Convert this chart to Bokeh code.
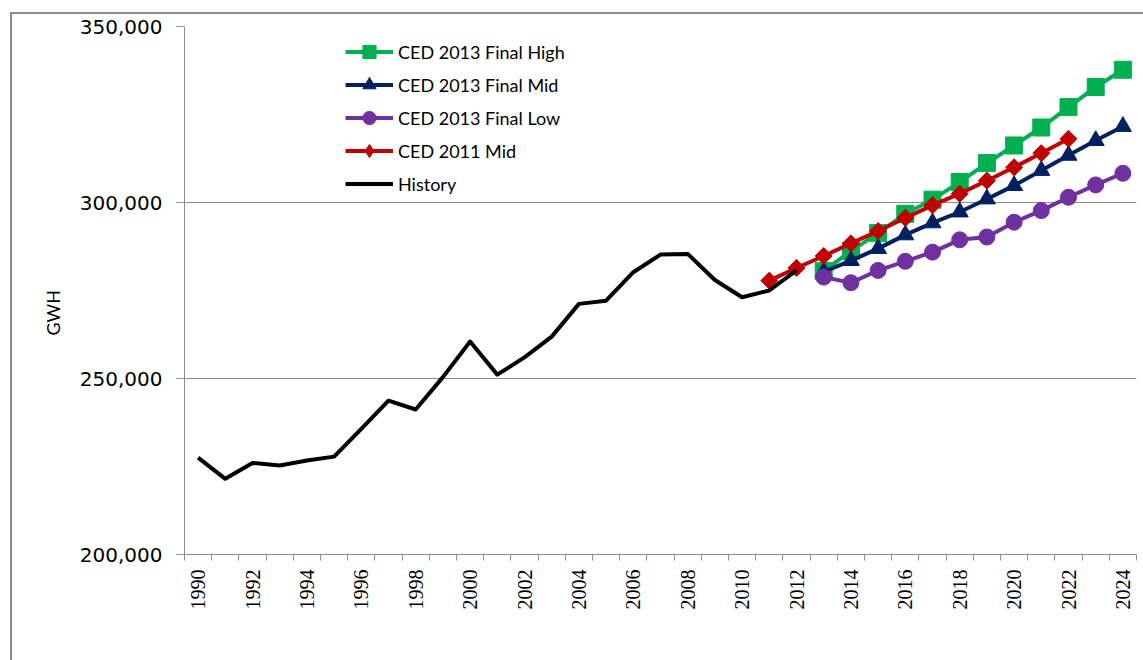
import math
from bokeh.plotting import figure
from bokeh.models import (Range1d, FixedTicker, NumeralTickFormatter, BasicTickFormatter,
                          Legend, Title, InlineStyleSheet)
from bokeh.embed import file_html
from bokeh.resources import INLINE

# ---------------- data ----------------
history_years = list(range(1990, 2013))
history = [227500, 221500, 226000, 225300, 226700, 227800, 235700, 243700, 241200,
           250400, 260500, 251100, 256000, 261900, 271200, 272100, 280200, 285200,
           285400, 278000, 273100, 275000, 280700]

ced2011_years = list(range(2011, 2023))
ced2011_mid = [277800, 281400, 284800, 288400, 291900, 295600, 299200, 302500,
               306200, 310000, 314000, 318100]

forecast_years = list(range(2013, 2025))
ced2013_high = [280500, 286200, 291300, 296800, 300800, 305800, 311200, 316200,
                321300, 327100, 332800, 337700]
ced2013_mid = [280300, 283500, 286900, 290800, 294200, 297300, 301000, 304800,
               309100, 313400, 317600, 321600]
ced2013_low = [278800, 277200, 280700, 283300, 285900, 289400, 290200, 294400,
               297700, 301500, 305000, 308300]

year_labels = list(range(1990, 2025, 2))
category_edges = [y - 0.5 for y in range(1990, 2026)]
y_ticks = [200000, 250000, 300000, 350000]

# ---------------- figure ----------------
W, H = 1143, 660
ML, MT, MR, MB = 184, 26, 7, 106

border_css = InlineStyleSheet(css="""
:host::after {
  content: "";
  position: absolute;
  left: 10px; top: 12px; right: 0px; bottom: 0px;
  border-left: 2px solid #8c8c8c;
  border-top: 2px solid #8c8c8c;
  pointer-events: none;
  z-index: 10;
}
""")

p = figure(width=W, height=H, output_backend="svg", toolbar_location=None,
           x_range=Range1d(1989.5, 2024.5), y_range=Range1d(200000, 350000),
           min_border_left=ML, min_border_top=MT, min_border_right=MR,
           min_border_bottom=MB, background_fill_color="white",
           border_fill_color="white", stylesheets=[border_css])
p.outline_line_color = None
p.xgrid.visible = False
p.ygrid.grid_line_color = "#8c8c8c"
p.ygrid.grid_line_width = 1
p.ygrid.ticker = FixedTicker(ticks=y_ticks)

GREY = "#8c8c8c"

xa = p.xaxis[0]
xa.ticker = FixedTicker(ticks=year_labels, minor_ticks=category_edges)
xa.formatter = BasicTickFormatter(use_scientific=False)
xa.major_tick_in = 0
xa.major_tick_out = 0
xa.minor_tick_in = 0
xa.minor_tick_out = 6
xa.minor_tick_line_color = GREY
xa.axis_line_color = GREY
xa.major_label_orientation = math.pi / 2
xa.major_label_standoff = 9
xa.major_label_text_font = "Liberation Serif"
xa.major_label_text_font_size = "20px"
xa.major_label_text_color = "black"

ya = p.yaxis[0]
ya.ticker = FixedTicker(ticks=y_ticks)
ya.formatter = NumeralTickFormatter(format="0,0")
ya.major_tick_in = 0
ya.major_tick_out = 8
ya.minor_tick_out = 0
ya.minor_tick_in = 0
ya.major_tick_line_color = GREY
ya.axis_line_color = GREY
ya.major_label_standoff = 14
ya.major_label_text_font = "DejaVu Sans"
ya.major_label_text_font_size = "20px"
ya.major_label_text_color = "black"

# y-axis title, a little below the frame centre as in the original
gwh = Title(text="GWH", align="left", offset=219, standoff=26,
            text_font="Lato", text_font_size="18px", text_font_style="normal",
            text_color="black")
p.add_layout(gwh, "left")

LW = 4
items = []

r1 = p.line(forecast_years, ced2013_high, line_color="#00b050", line_width=LW)
r2 = p.scatter(forecast_years, ced2013_high, marker="square", size=17,
               fill_color="#00b050", line_color="#00b050")
items.append(("CED 2013 Final High", [r1, r2]))

r1 = p.line(forecast_years, ced2013_mid, line_color="#002060", line_width=LW)
r2 = p.scatter(forecast_years, ced2013_mid, marker="triangle", size=17,
               fill_color="#002060", line_color="#002060")
items.append(("CED 2013 Final Mid", [r1, r2]))

r1 = p.line(forecast_years, ced2013_low, line_color="#7030a0", line_width=LW)
r2 = p.scatter(forecast_years, ced2013_low, marker="circle", size=16,
               fill_color="#7030a0", line_color="#7030a0")
items.append(("CED 2013 Final Low", [r1, r2]))

r1 = p.line(ced2011_years, ced2011_mid, line_color="#c00000", line_width=LW)
r_d = p.scatter(ced2011_years, ced2011_mid, marker="diamond", size=16,
                fill_color="#c00000", line_color="#c00000")
r2 = p.scatter(ced2011_years, ced2011_mid, marker="square", size=12, angle=math.pi / 4,
               fill_color="#c00000", line_color="#c00000")
items.append(("CED 2011 Mid", [r1, r_d]))

r1 = p.line(history_years, history, line_color="black", line_width=LW, line_join="round")
items.append(("History", [r1]))

legend = Legend(items=items, location=(161, 354), orientation="vertical",
                glyph_width=48, glyph_height=33, label_height=33, spacing=0,
                padding=0, margin=0, label_standoff=5,
                label_text_font="Lato", label_text_font_size="18px",
                label_text_color="black", border_line_alpha=0,
                background_fill_alpha=0)
p.add_layout(legend)

open("out.html", "w").write(file_html(p, INLINE))
